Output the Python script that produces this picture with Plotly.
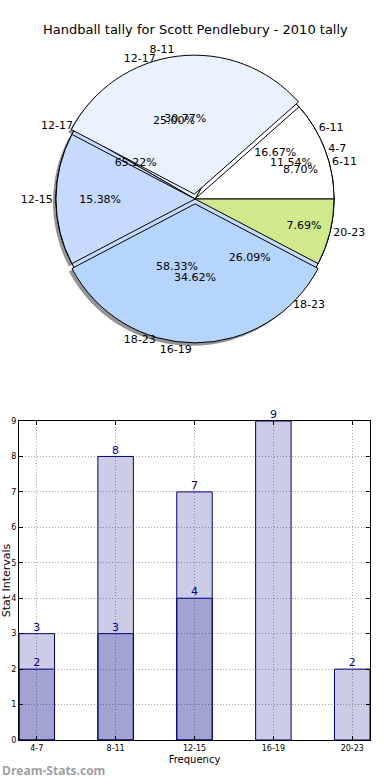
import plotly.graph_objects as go

# ---------------- data ----------------
title_text = "Handball tally for Scott Pendlebury - 2010 tally"

pieA_labels = ["4-7", "8-11", "12-15", "16-19", "20-23"]
pieA_values = [3, 8, 4, 9, 2]
pieA_colors = ["#FFFFFF", "#EAF2FF", "#C6DAFF", "#B5D5FF", "#CFEA8A"]
pieA_pull = [0, 0.035, 0, 0.035, 0]

pieB_labels = ["6-11", "12-17", "18-23"]
pieB_values = [2, 3, 7]
pieB_colors = ["#FFFFFF", "#EAF2FF", "#C6DAFF"]

pieC_labels = ["6-11", "12-17", "18-23"]
pieC_values = [2, 15, 6]
pieC_colors = ["#FFFFFF", "#EAF2FF", "#C6DAFF"]

bar_categories = ["4-7", "8-11", "12-15", "16-19", "20-23"]
bar_total = [3, 8, 7, 9, 2]
bar_inner = [2, 3, 4, None, None]

W, H = 390, 780

# ---------------- pie geometry ----------------
cx, cy, R = 195, 199, 139
PMAX = max(pieA_pull)


def dom(pull_max, dx=0, dy=0):
    half = R * (1 + pull_max)
    x0 = (cx + dx - half) / W
    x1 = (cx + dx + half) / W
    yc = 1 - (cy + dy) / H
    return dict(x=[x0, x1], y=[yc - half / H, yc + half / H])


def rot(vals):
    # first wedge starts at 3 o'clock and runs counterclockwise (matplotlib style)
    return 90 - 360.0 * vals[0] / sum(vals)


fig = go.Figure()

line_black = dict(color="black", width=1)

# shadow
fig.add_trace(go.Pie(
    labels=pieA_labels, values=pieA_values, sort=False, direction="counterclockwise",
    rotation=rot(pieA_values), pull=pieA_pull, domain=dom(PMAX, -3, 3),
    marker=dict(colors=["rgba(60,60,60,0.55)"] * 5, line=dict(width=0)),
    textinfo="none", hoverinfo="skip", showlegend=False))

# slices
for labs, vals, cols, pull in [
    (pieC_labels, pieC_values, pieC_colors, None),
    (pieB_labels, pieB_values, pieB_colors, None),
    (pieA_labels, pieA_values, pieA_colors, pieA_pull),
]:
    fig.add_trace(go.Pie(
        labels=labs, values=vals, sort=False, direction="counterclockwise",
        rotation=rot(vals), pull=pull if pull else 0,
        domain=dom(PMAX if pull else 0),
        marker=dict(colors=cols, line=line_black),
        textinfo="none", hoverinfo="skip", showlegend=False))

# text overlays
tfont = dict(family="DejaVu Sans", size=11, color="black")
for labs, vals, pull in [
    (pieC_labels, pieC_values, None),
    (pieB_labels, pieB_values, None),
    (pieA_labels, pieA_values, pieA_pull),
]:
    n = len(vals)
    common = dict(labels=labs, values=vals, sort=False, direction="counterclockwise",
                  rotation=rot(vals), pull=pull if pull else 0,
                  domain=dom(PMAX if pull else 0),
                  marker=dict(colors=["rgba(0,0,0,0)"] * n, line=dict(width=0)),
                  hoverinfo="skip", showlegend=False, textfont=tfont)
    fig.add_trace(go.Pie(textposition="inside", insidetextorientation="horizontal",
                         texttemplate="%{percent:.2%}", **common))
    fig.add_trace(go.Pie(textposition="outside", texttemplate="%{label}", **common))

# ---------------- bars ----------------
xs = list(range(len(bar_categories)))
bar_fill = "rgba(0,0,128,0.2)"
fig.add_trace(go.Bar(x=xs, y=bar_total, width=0.45, marker=dict(color=bar_fill, line=dict(color="#000080", width=1)),
                     xaxis="x", yaxis="y", hoverinfo="skip", showlegend=False))
fig.add_trace(go.Bar(x=xs, y=bar_inner, width=0.45, marker=dict(color=bar_fill, line=dict(color="#000080", width=1)),
                     xaxis="x", yaxis="y", hoverinfo="skip", showlegend=False))

lab_font = dict(family="DejaVu Sans", size=11, color="#00008B")
fig.add_trace(go.Scatter(x=xs, y=bar_total, mode="text", text=[str(v) for v in bar_total],
                         textposition="top center", textfont=lab_font, cliponaxis=False,
                         hoverinfo="skip", showlegend=False))
fig.add_trace(go.Scatter(x=xs, y=bar_inner, mode="text",
                         text=[str(v) if v is not None else "" for v in bar_inner],
                         textposition="top center", textfont=lab_font, cliponaxis=False,
                         hoverinfo="skip", showlegend=False))

axis_common = dict(showline=True, mirror="ticks", linecolor="black", linewidth=1,
                   ticks="inside", ticklen=4, tickcolor="black",
                   showgrid=True, gridcolor="#a8a8a8", griddash="1px,2px", gridwidth=1,
                   zeroline=False, automargin=False,
                   tickfont=dict(family="DejaVu Sans", size=8, color="black"))

fig.update_layout(
    width=W, height=H,
    margin=dict(l=0, r=0, t=0, b=0),
    paper_bgcolor="white", plot_bgcolor="white",
    showlegend=False, barmode="overlay",
    uniformtext=dict(minsize=11, mode="show"),
    xaxis=dict(domain=[19 / W, 370 / W], range=[-0.225, 4.225], tickvals=xs, ticktext=bar_categories,
               title=dict(text="Frequency", font=dict(family="DejaVu Sans", size=10, color="black"), standoff=4),
               **axis_common),
    yaxis=dict(domain=[1 - 740 / H, 1 - 421 / H], range=[0, 9], dtick=1,
               title=dict(text="Stat Intervals", font=dict(family="DejaVu Sans", size=11, color="black"), standoff=0),
               **axis_common),
    annotations=[
        dict(text=title_text, x=0.5, xanchor="center", y=1 - 30 / H, yanchor="middle",
             xref="paper", yref="paper", showarrow=False,
             font=dict(family="DejaVu Sans", size=13, color="black")),
        dict(text="Dream-Stats.com", x=0, xanchor="left", y=1 - 770 / H, yanchor="middle",
             xref="paper", yref="paper", showarrow=False,
             font=dict(family="Open Sans", size=12, color="#a0a0a0", weight="bold")),
    ],
)

fig.write_html("out.html", config={"displayModeBar": False},
               post_script="document.body.style.margin='0';")
